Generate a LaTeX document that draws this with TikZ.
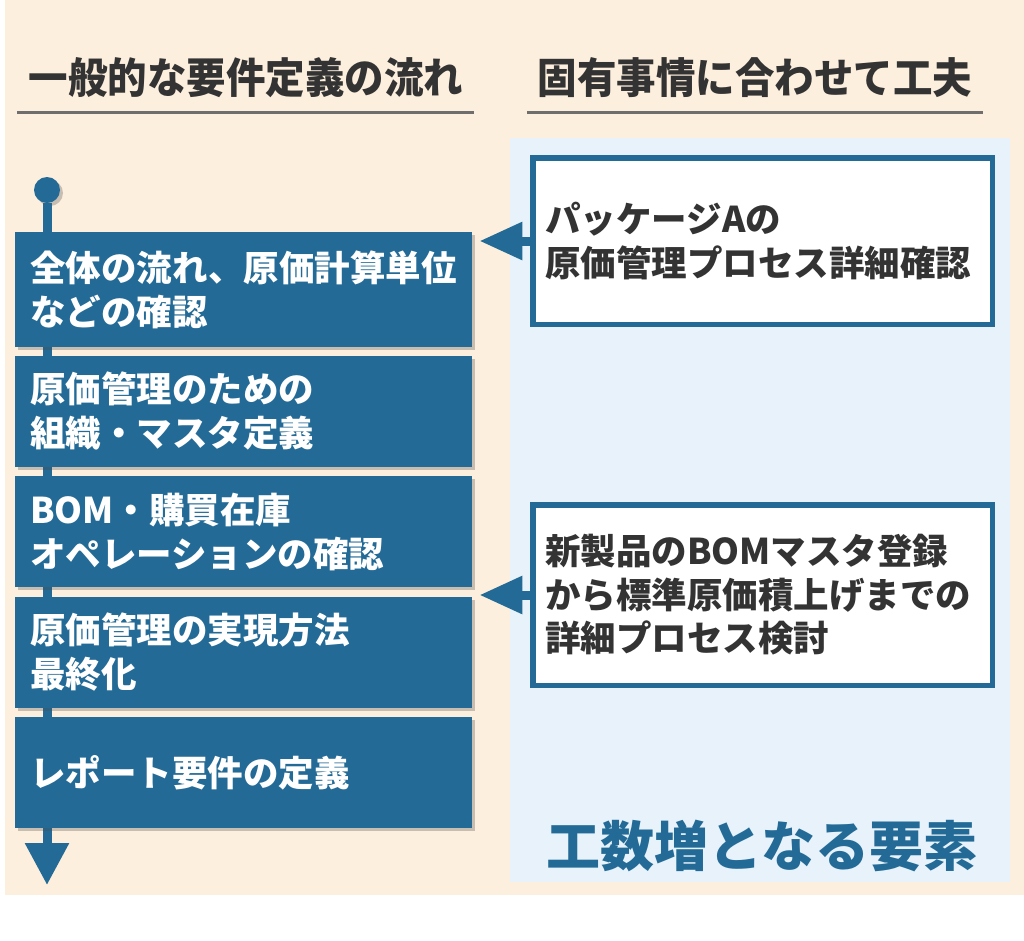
\documentclass[tikz,border=0pt]{standalone}
\usepackage{fontspec}
\setmainfont{Noto Sans CJK JP}
\usetikzlibrary{positioning,arrows.meta,shadows}
\definecolor{peach}{HTML}{FDEFDE}
\definecolor{panelblue}{HTML}{E7F2FA}
\definecolor{flowblue}{HTML}{236B96}
\definecolor{inkgray}{HTML}{333333}
\definecolor{rulegray}{HTML}{6E6E6E}
\tikzset{
	shade box/.style={drop shadow={shadow xshift=3pt,shadow yshift=-3pt,opacity=.3,fill=black!70}},
	stepbox/.style={shade box,fill=flowblue,text=white,anchor=west,align=left,text width=427pt,inner xsep=15pt,minimum height=111pt,font=\fontsize{35.5}{44}\selectfont\bfseries},
	notebox/.style={shade box,fill=white,draw=flowblue,line width=5.5pt,text=inkgray,anchor=west,align=left,text width=434.5pt,inner xsep=12.5pt,font=\fontsize{35.5}{43.5}\selectfont\bfseries},
	headline/.style={text=inkgray,font=\fontsize{42}{50}\selectfont\bfseries},
	pointer/.style={flowblue,line width=9pt,-{Triangle[length=43pt,width=36pt]},shorten >=7pt}
}
\begin{document}
\begin{tikzpicture}[x=1pt,y=-1pt]
		\useasboundingbox[fill=white] (0,0) rectangle (1024,940);
		\fill[peach] (5,0) rectangle (1024,895);
		\fill[panelblue] (510,138) rectangle (1010,882);
		% headings
		\node [headline](hflow)at (246,78) {\scalebox{0.94}[1]{一般的な要件定義の流れ}};
		\node [headline](hcase)at (755,78) {\scalebox{0.94}[1]{固有事情に合わせて工夫}};
		\draw [rulegray, line width=3pt](17,112)--(474,112);
		\draw [rulegray, line width=3pt](527,112)--(983,112);
		% flow line
		\node [shade box, circle, fill=flowblue, minimum size=26pt, inner sep=0](start)at (47,190) {};
		\coordinate (finish) at (47,885);
		\draw [flowblue, line width=9pt, -{Triangle[length=42pt,width=42pt]}](start)--(finish);
		% steps
		\node [stepbox, minimum height=115pt](b1)at (15,289.5) {全体の流れ、原価計算単位\\などの確認};
		\node [stepbox, below=8.5pt of b1.south west, anchor=north west](b2) {原価管理のための\\組織・マスタ定義};
		\node [stepbox, below=9pt of b2.south west, anchor=north west](b3) {BOM・購買在庫\\オペレーションの確認};
		\node [stepbox, below=9pt of b3.south west, anchor=north west](b4) {原価管理の実現方法\\最終化};
		\node [stepbox, below=9pt of b4.south west, anchor=north west](b5) {レポート要件の定義};
		% extra work
		\node [notebox, minimum height=166.5pt](pkg)at (530,241) {パッケージAの\\原価管理プロセス詳細確認};
		\node [notebox, minimum height=180.5pt](bom)at (530,595) {新製品のBOMマスタ登録\\から標準原価積上げまでの\\詳細プロセス検討};
		\draw [pointer](pkg.west)--(pkg.west -| b1.east);
		\draw [pointer](bom.west)--(bom.west -| b4.east);
		\node [text=flowblue, font=\fontsize{54}{60}\selectfont\bfseries](more)at (762,846) {工数増となる要素};
	\end{tikzpicture}
\end{document}
